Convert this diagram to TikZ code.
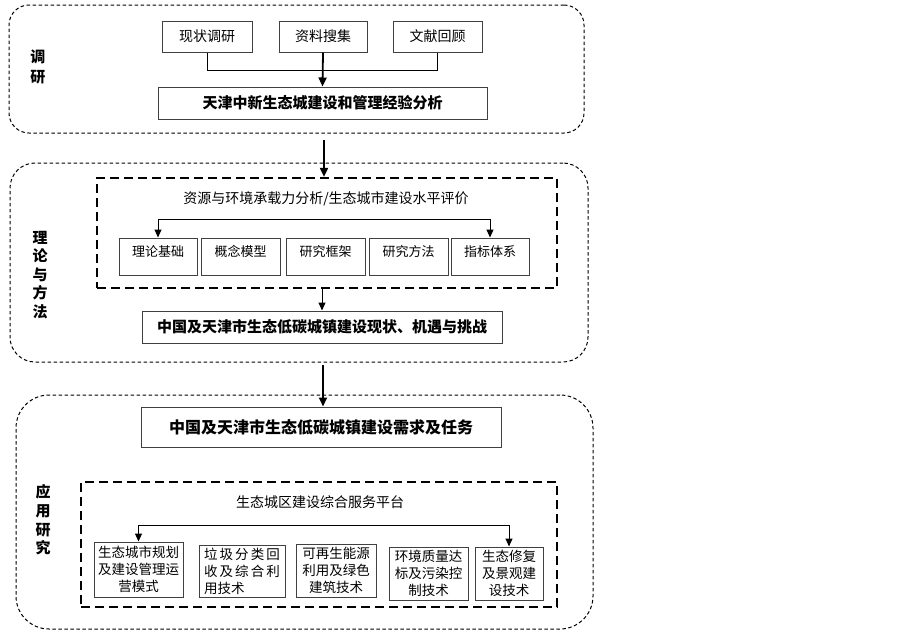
\documentclass[tikz,border=0pt]{standalone}
\usepackage{fontspec}
\newfontfamily\cjk{Noto Sans CJK SC}
\usetikzlibrary{arrows.meta}
\begin{document}
\begin{tikzpicture}[x=1pt,y=-1pt,
  outer/.style={draw=black, line width=1pt, dash pattern=on 3.5pt off 2.5pt, inner sep=0pt},
  innerbox/.style={draw=black, line width=2.2pt, dash pattern=on 9pt off 5pt, inner sep=0pt},
  box/.style={draw=black!75, line width=1pt, inner sep=0pt, align=center, font=\cjk\fontsize{13.5}{17}\selectfont},
  topbox/.style={box, font=\cjk\fontsize{14}{16}\selectfont},
  midbox/.style={box, font=\cjk\fontsize{13}{15}\selectfont, text height=6pt, text depth=6pt},
  boldbox/.style={box, font=\cjk\bfseries\fontsize{15}{18}\selectfont},
  title/.style={inner sep=0pt, font=\cjk\fontsize{14}{16}\selectfont},
  lab/.style={inner sep=0pt, align=center},
  arr/.style={-{Triangle[length=8pt,width=7pt]}, line width=1pt},
  bigarr/.style={-{Triangle[length=9pt,width=8pt]}, line width=1.8pt},
  conn/.style={line width=1pt}
]
\useasboundingbox (0,0) rectangle (903,633);

% ---------- section 1 ----------
\node[outer, rounded corners=20pt, minimum width=575pt, minimum height=128pt] (o1) at (296.5,69) {};
\node[lab, font=\cjk\bfseries\fontsize{15}{20}\selectfont] (l1) at (38,67) {调\\研};
\node[topbox, minimum width=90pt, minimum height=31pt] (xz) at (207,36.5) {现状调研};
\node[topbox, minimum width=88pt, minimum height=31pt] (zl) at (323,36.5) {资料搜集};
\node[topbox, minimum width=89pt, minimum height=31pt] (wx) at (437.5,36.5) {文献回顾};
\node[boldbox, minimum width=329pt, minimum height=32pt] (m1) at (322.5,103) {天津中新生态城建设和管理经验分析};
\draw[conn] (xz.south) -- ++(0,18) -| (wx.south);
\draw[bigarr] (zl.south) -- (m1.north);

% ---------- section 2 ----------
\node[outer, rounded corners=25pt, minimum width=578pt, minimum height=199pt] (o2) at (299,262.5) {};
\node[lab, font=\cjk\bfseries\fontsize{15}{18.5}\selectfont] (l2) at (40,275) {理\\论\\与\\方\\法};
\node[innerbox, minimum width=460pt, minimum height=110pt] (d2) at (327,233) {};
\node[title] (t2) at (326,199) {资源与环境承载力分析/生态城市建设水平评价};
\node[midbox, minimum width=78pt, minimum height=37pt] (p1) at (158,256.5) {理论基础};
\node[midbox, minimum width=79pt, minimum height=37pt] (p2) at (240.5,256.5) {概念模型};
\node[midbox, minimum width=79pt, minimum height=37pt] (p3) at (325.5,256.5) {研究框架};
\node[midbox, minimum width=79pt, minimum height=37pt] (p4) at (408.5,256.5) {研究方法};
\node[midbox, minimum width=78pt, minimum height=37pt] (p5) at (490,256.5) {指标体系};
\coordinate (h2) at (0,219);
\draw[conn] (p1.north |- h2) -- (p5.north |- h2);
\draw[arr] (p1.north |- h2) -- (p1.north);
\draw[arr] (p5.north |- h2) -- (p5.north);
\node[boldbox, minimum width=360pt, minimum height=32pt] (c2) at (322,327) {中国及天津市生态低碳城镇建设现状、机遇与挑战};
\draw[arr] (c2.north |- d2.south) -- (c2.north);

\coordinate (a1) at (324,140);
\draw[bigarr] (a1) -- (a1 |- d2.north);

% ---------- section 3 ----------
\node[outer, rounded corners=33pt, minimum width=577pt, minimum height=234pt] (o3) at (304.5,512) {};
\node[lab, font=\cjk\bfseries\fontsize{15}{18.7}\selectfont] (l3) at (43,520) {应\\用\\研\\究};
\node[boldbox, font=\cjk\bfseries\fontsize{16}{18}\selectfont, minimum width=360pt, minimum height=40pt] (m3) at (321,427) {中国及天津市生态低碳城镇建设需求及任务};
\coordinate (a2) at (323,365);
\draw[bigarr] (a2) -- (a2 |- m3.north);
\node[innerbox, minimum width=476pt, minimum height=125pt] (d3) at (319,544.5) {};
\node[title] (t3) at (320,502) {生态城区建设综合服务平台};
\node[box, minimum width=89pt, minimum height=55pt] (q1) at (138.5,569.5) {生态城市规划\\及建设管理运\\营模式};
\node[box, minimum width=86pt, minimum height=52pt, align=left] (q2) at (242,571) {\makebox[76pt][s]{垃 圾 分 类 回}\\\makebox[76pt][s]{收 及 综 合 利}\\用技术};
\node[box, minimum width=80pt, minimum height=53pt] (q3) at (336,570.5) {可再生能源\\利用及绿色\\建筑技术};
\node[box, minimum width=79pt, minimum height=53pt] (q4) at (428.5,573.5) {环境质量达\\标及污染控\\制技术};
\node[box, minimum width=68pt, minimum height=53pt] (q5) at (509,573.5) {生态修复\\及景观建\\设技术};
\coordinate (h3) at (0,525);
\draw[conn] (q1.north |- h3) -- (q5.north |- h3);
\draw[arr] (q1.north |- h3) -- (q1.north);
\draw[arr] (q5.north |- h3) -- (q5.north);
\end{tikzpicture}
\end{document}
